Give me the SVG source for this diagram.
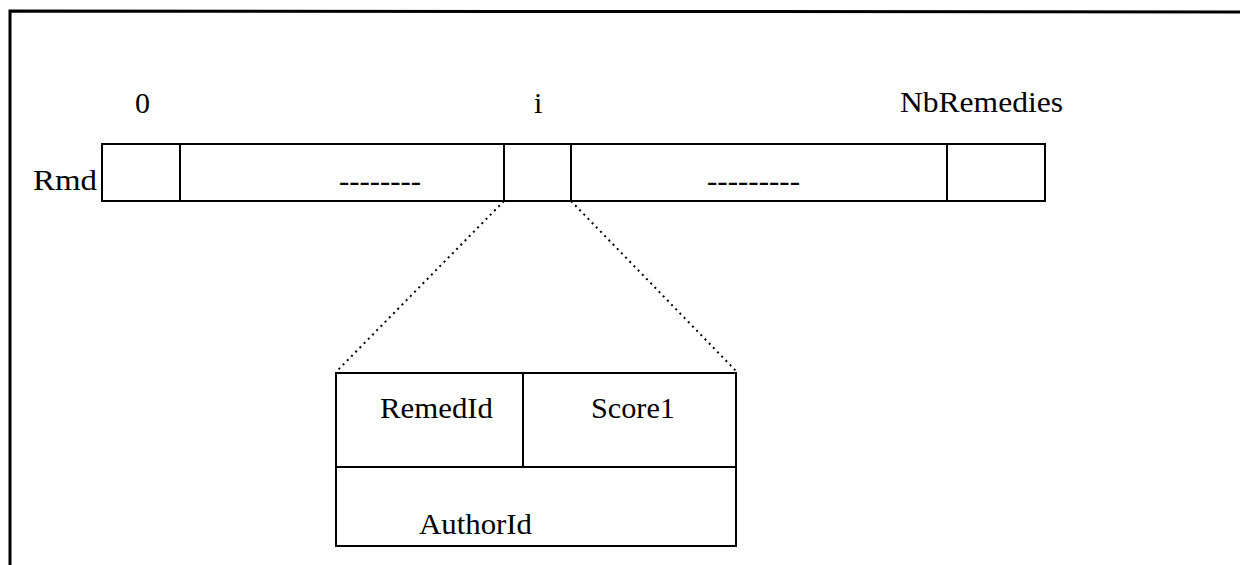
<svg xmlns="http://www.w3.org/2000/svg" width="1240" height="565" viewBox="0 0 1240 565">
  <style>
    text { font-family: 'Liberation Serif', 'DejaVu Serif', 'Times New Roman', Times, serif; font-size: 30px; fill: #000; }
    .box { fill: none; stroke: #000; stroke-width: 2; }
    .dot { fill: none; stroke: #000; stroke-width: 2; stroke-dasharray: 2 4; }
  </style>
  <rect width="1240" height="565" fill="#fff"/>
  <path d="M10,565 L10,11 L1240,12" fill="none" stroke="#000" stroke-width="3"/>
  <g id="labels" font-family="Liberation Serif, serif">
    <text x="135" y="113">0</text>
    <text x="534" y="113">i</text>
    <text x="900" y="112" textLength="163" lengthAdjust="spacingAndGlyphs">NbRemedies</text>
    <text x="33" y="190" textLength="64" lengthAdjust="spacingAndGlyphs">Rmd</text>
  </g>
  <g id="array">
    <rect class="box" x="102" y="144" width="943" height="57"/>
    <line class="box" x1="180" y1="144" x2="180" y2="201"/>
    <line class="box" x1="504" y1="144" x2="504" y2="201"/>
    <line class="box" x1="571" y1="144" x2="571" y2="201"/>
    <line class="box" x1="947" y1="144" x2="947" y2="201"/>
    <text x="339" y="191" textLength="82" lengthAdjust="spacingAndGlyphs">--------</text>
    <text x="707" y="191" textLength="93" lengthAdjust="spacingAndGlyphs">---------</text>
  </g>
  <g id="connectors">
    <line class="dot" x1="504" y1="201" x2="336" y2="372"/>
    <line class="dot" x1="571" y1="201" x2="737" y2="372"/>
  </g>
  <g id="record">
    <rect class="box" x="336" y="373" width="400" height="173"/>
    <line class="box" x1="336" y1="467" x2="736" y2="467"/>
    <line class="box" x1="523" y1="373" x2="523" y2="467"/>
    <text x="380" y="418" textLength="113" lengthAdjust="spacingAndGlyphs">RemedId</text>
    <text x="591" y="418" textLength="84" lengthAdjust="spacingAndGlyphs">Score1</text>
    <text x="419" y="534" textLength="113" lengthAdjust="spacingAndGlyphs">AuthorId</text>
  </g>
</svg>
